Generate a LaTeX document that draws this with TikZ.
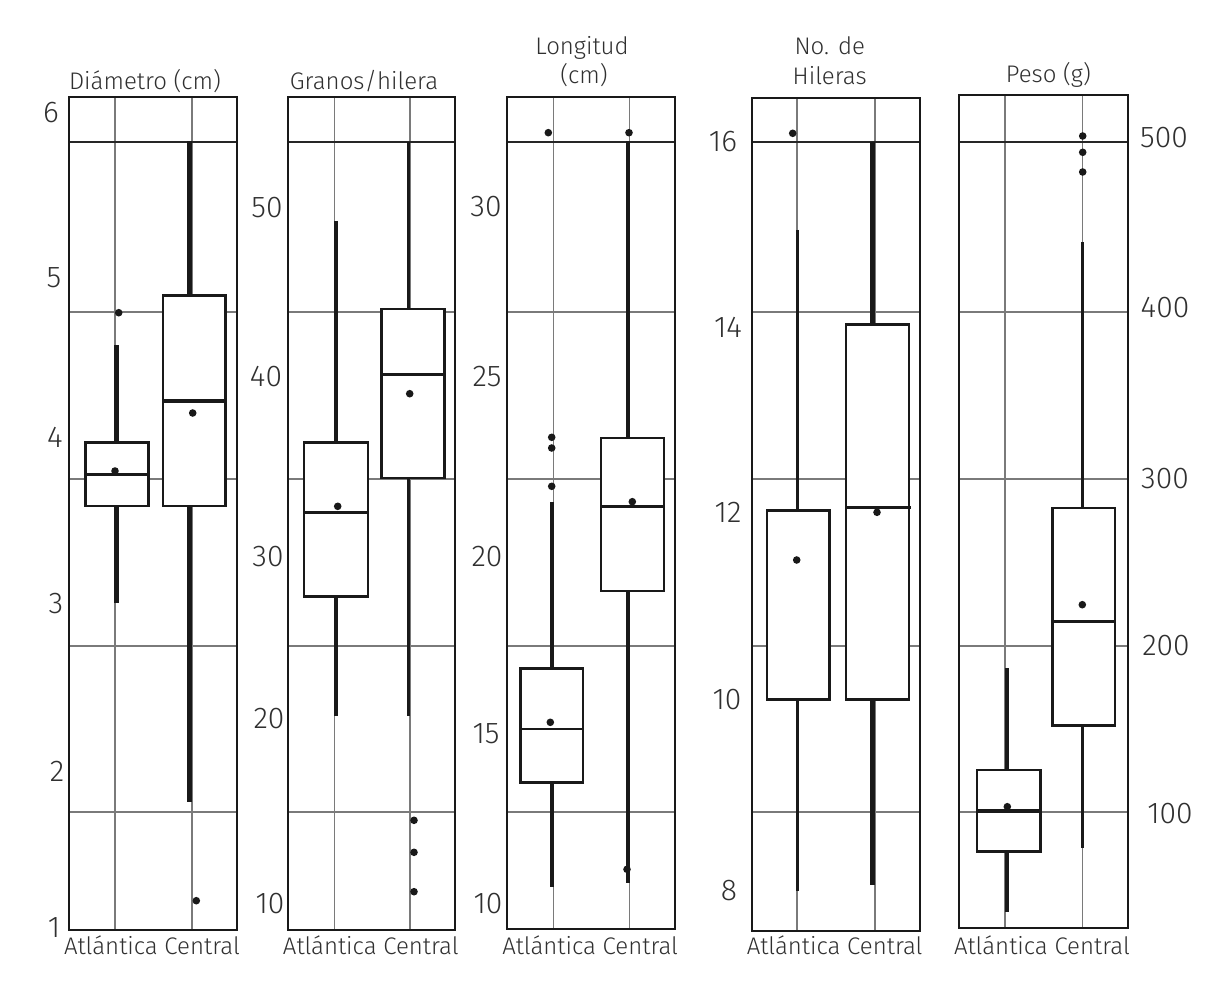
\documentclass[tikz,border=0pt]{standalone}
\usepackage{fontspec}
\setmainfont{Fira Sans}[UprightFont=* Light]
\definecolor{txt}{HTML}{303030}
\definecolor{gridc}{HTML}{7A7A7A}
\tikzset{
 gridline/.style={draw=gridc, line width=1.1pt},
 topline/.style={draw=black!85, line width=1.3pt},
 frame/.style={draw=black!90, line width=2.8pt},
 boxst/.style={draw=black!90, fill=white, line width=2.5pt},
 whisk/.style={draw=black!90, line width=#1},
 med/.style={draw=black!90, line width=#1},
 tick/.style={text=txt, font=\fontsize{30}{30}\selectfont, inner sep=0pt, anchor=center},
 cat/.style={text=txt, font=\fontsize{24}{26}\selectfont, inner sep=0pt, anchor=base},
 ttl/.style={text=txt, font=\fontsize{24}{26}\selectfont, inner sep=0pt, anchor=base},
 dot/.style={fill=black!90},
}
\newcommand\panelbg[6]{%
 \fill[white] (#1,#3) rectangle (#2,#4);
 \draw[gridline] (#5,#3) -- (#5,#4);
 \draw[gridline] (#6,#3) -- (#6,#4);
 \foreach \yy in {312,479,646,812} {\draw[gridline] (#1,\yy) -- (#2,\yy);}
 \draw[topline] (#1,142) -- (#2,142);
}
\newcommand\bxw[4]{\draw[whisk=#4pt] (#1,#2) -- (#1,#3);}
\newcommand\bxb[4]{\draw[boxst] (#1,#2) rectangle (#3,#4);}
\newcommand\bxm[4]{\draw[med=#4pt] (#1,#3) -- (#2,#3);}
\newcommand\mydot[2]{\fill[dot] (#1,#2) circle (3.8);}
\begin{document}
\begin{tikzpicture}[x=1pt,y=-1pt]
\useasboundingbox (0,0) rectangle (1215,984);
\fill[white] (0,0) rectangle (1215,984);

% ---------- Panel 1: Diametro
\panelbg{69}{237}{97}{930}{115}{192}
\bxw{116.7}{345}{603}{4.5}
\bxb{85.7}{442.7}{148.7}{506}
\bxm{85.7}{148.7}{474.7}{2.8}
\mydot{115}{471}
\mydot{118.7}{312.7}
\bxw{189.3}{141}{801.7}{5}
\bxb{163}{295.7}{225.7}{506}
\bxm{163}{225.7}{400.7}{4}
\mydot{192.7}{413}
\mydot{196.3}{900.7}
\draw[frame] (69,97) rectangle (237,930);

% ---------- Panel 2: Granos/hilera
\panelbg{288}{455}{97}{930}{334.3}{410}
\bxw{336}{221}{715.7}{3.3}
\bxb{304}{442.7}{368}{596.7}
\bxm{304}{368}{512.7}{2.5}
\mydot{337.7}{506.3}
\bxw{408.7}{141.7}{715.7}{3.5}
\bxb{381.7}{309}{444.7}{478}
\bxm{381.7}{444.7}{374.3}{3}
\mydot{409.7}{393.7}
\mydot{414}{820.3}
\mydot{414}{852.3}
\mydot{414}{891.7}
\draw[frame] (288,97) rectangle (455,930);

% ---------- Panel 3: Longitud
\panelbg{507}{675}{97}{929}{553.3}{629.3}
\bxw{551.7}{502.3}{887.3}{4}
\bxb{520.7}{668.7}{583}{782.7}
\bxm{520.7}{583}{729}{2.8}
\mydot{550.3}{722.3}
\mydot{548.3}{132.7}
\mydot{551.7}{437.3}
\mydot{551.7}{448}
\mydot{551.7}{486.3}
\bxw{627.7}{141}{883.3}{4}
\bxb{601}{438}{664}{591}
\bxm{601}{664}{506}{3}
\mydot{632.3}{501.7}
\mydot{629}{132.7}
\mydot{627}{869.3}
\draw[frame] (507,97) rectangle (675,929);

% ---------- Panel 4: No. de Hileras
\panelbg{752}{920}{98}{931}{797}{875}
\bxw{797}{230}{890.7}{3}
\bxb{767}{510.7}{829.3}{699.3}
\mydot{796.7}{560}
\mydot{792.7}{133.3}
\bxw{872.7}{141.7}{885}{5}
\bxb{846}{324.7}{909}{699.3}
\bxm{846}{911}{507.3}{3.5}
\mydot{877}{512.3}
\draw[frame] (752,98) rectangle (920,931);

% ---------- Panel 5: Peso
\panelbg{959}{1128}{95}{928}{1005}{1082.7}
\bxw{1007}{668.3}{911.7}{4}
\bxb{977}{770}{1040.7}{851.7}
\bxm{977}{1040.7}{811}{3.5}
\mydot{1007.3}{806.7}
\bxw{1082.7}{242.3}{848.3}{3.3}
\bxb{1052.7}{508}{1115}{725.7}
\bxm{1052.7}{1115}{621.3}{3.5}
\mydot{1082.3}{604.7}
\mydot{1082.7}{136}
\mydot{1082.7}{152.3}
\mydot{1082.7}{172}
\draw[frame] (959,95) rectangle (1128,928);

% ---------- Titles
\node[ttl] (t1) at (145,90) {Diámetro (cm)};
\node[ttl] (t2) at (364,90) {Granos/hilera};
\node[ttl] (t3a) at (582,54.3) {Longitud};
\node[ttl] (t3b) at (584,84) {(cm)};
\node[ttl] (t4a) at (829.7,55) {No. de};
\node[ttl] (t4b) at (829.7,84.3) {Hileras};
\node[ttl] (t5) at (1048.3,82.3) {Peso (g)};

% ---------- Category labels
\node[cat] (c1) at (152,954) {Atlántica Central};
\node[cat] (c2) at (370.8,954) {Atlántica Central};
\node[cat] (c3) at (590.2,954) {Atlántica Central};
\node[cat] (c4) at (834.7,954) {Atlántica Central};
\node[cat] (c5) at (1042,954) {Atlántica Central};

% ---------- Tick labels
\node[tick] (a6) at (51,113) {6};
\node[tick] (a5) at (54,278) {5};
\node[tick] (a4) at (55,437) {4};
\node[tick] (a3) at (56,604) {3};
\node[tick] (a2) at (57,771) {2};
\node[tick] (a1) at (54,928) {1};

\node[tick] (b50) at (267,207.5) {50};
\node[tick] (b40) at (266,377) {40};
\node[tick] (b30) at (268,557) {30};
\node[tick] (b20) at (269,718.5) {20};
\node[tick] (b10) at (270,904) {10};

\node[tick] (d30) at (486,207) {30};
\node[tick] (d25) at (487,377) {25};
\node[tick] (d20) at (487,557) {20};
\node[tick] (d15) at (486,734) {15};
\node[tick] (d10) at (488,903.5) {10};

\node[tick] (e16) at (723,142) {16};
\node[tick] (e14) at (728,327) {14};
\node[tick] (e12) at (728,512) {12};
\node[tick] (e10) at (727,700) {10};
\node[tick] (e8) at (729,891) {8};

\node[tick] (f500) at (1164,138) {500};
\node[tick] (f400) at (1165,308) {400};
\node[tick] (f300) at (1165,479) {300};
\node[tick] (f200) at (1166,646) {200};
\node[tick] (f100) at (1170,814) {100};
\end{tikzpicture}
\end{document}
